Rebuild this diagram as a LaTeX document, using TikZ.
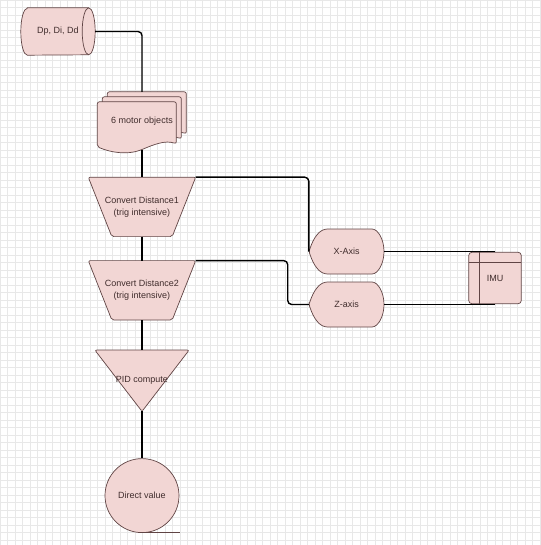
\documentclass[tikz,border=0pt]{standalone}
\usepackage{fontspec}
\setmainfont{Liberation Sans}
\usepackage{tikz}
\usetikzlibrary{positioning, calc, backgrounds}
\definecolor{shapefill}{RGB}{242,214,212}
\definecolor{shapeedge}{RGB}{96,68,68}
\definecolor{labeltext}{RGB}{64,44,44}
\definecolor{gridline}{RGB}{232,232,232}

\begin{document}
\begin{tikzpicture}[
      x=1pt, y=1pt,
      every node/.style={text=labeltext, font=\fontsize{9}{12}\selectfont, align=center, inner sep=0pt},
      shp/.style={draw=shapeedge, fill=shapefill, line width=0.7pt, rounded corners=2pt},
      edge/.style={draw=shapeedge, line width=0.7pt},
      wire/.style={draw=black, line width=1.4pt, rounded corners=4pt}
    ]
    \useasboundingbox (0,0) rectangle (540,-545);
    \node [minimum width=74pt, minimum height=47pt] (data) at (58,-31.5) {Dp, Di, Dd};
    \node [minimum width=89pt, minimum height=58pt] (motors) at (142,-121) {6 motor objects};
    \node [minimum width=107pt, minimum height=59pt, below=27pt of motors] (conv1) {Convert Distance1\\(trig intensive)};
    \node [minimum width=107pt, minimum height=59pt, below=24pt of conv1] (conv2) {Convert Distance2\\(trig intensive)};
    \node [minimum width=94pt, minimum height=61pt, below=30pt of conv2] (pid) {PID compute};
    \node [circle, minimum size=74pt, below=47pt of pid] (direct) {Direct value};
    \node [minimum width=75pt, minimum height=45pt] (xaxis) at (346.5,-251.5) {X-Axis};
    \node [minimum width=75pt, minimum height=45pt] (zaxis) at (346.5,-304.5) {Z-axis};
    \node [minimum width=52pt, minimum height=51pt] (imu) at (495,-278) {IMU};

    \begin{scope}[on background layer]
      % grid paper
      \foreach \i in {0,...,73} {
        \draw [gridline, line width=0.35pt] (\i*7.5,0) -- (\i*7.5,-545);
        \draw [gridline, line width=0.35pt] (0,-\i*7.5) -- (540,-\i*7.5);
      }
      % stored data
      \path [shp, sharp corners] ($(data.north west)+(6.5,0)$) -- ($(data.north east)+(-6.5,0)$)
        arc [start angle=90, end angle=-90, x radius=6.5, y radius=23.5]
        -- ($(data.south west)+(6.5,0)$)
        arc [start angle=270, end angle=90, x radius=6.5, y radius=23.5] -- cycle;
      \draw [edge] ($(data.north east)+(-6.5,0)$) arc [start angle=90, end angle=270, x radius=6.5, y radius=23.5];
      % documents
      \foreach \d in {10,5,0}
        \path [shp, shift={($(motors.north west)+(\d,-10+\d)$)}] (0,0) -- (79,0) -- (79,-42)
          .. controls (68,-38) and (56,-43) .. (44,-48)
          .. controls (30,-53) and (14,-51) .. (0,-45) -- cycle;
      % manual operations
      \foreach \n in {conv1,conv2}
        \path [shp] (\n.north west) -- (\n.north east) -- ($(\n.south east)+(-23.5,0)$)
          -- ($(\n.south west)+(23.5,0)$) -- cycle;
      % displays
      \foreach \n in {xaxis,zaxis}
        \path [shp, shift={(\n.center)}] (-37.5,0) .. controls (-33,-14) and (-27,-22.5) .. (-17,-22.5)
          -- (23.5,-22.5) arc [start angle=-90, end angle=90, x radius=14, y radius=22.5]
          -- (-17,22.5) .. controls (-27,22.5) and (-33,14) .. (-37.5,0) -- cycle;
      % internal storage
      \path [shp, rounded corners=3pt] (imu.north west) rectangle (imu.south east);
      \draw [edge] ($(imu.north west)+(11,0)$) -- ($(imu.south west)+(11,0)$)
        ($(imu.north west)+(0,-10)$) -- ($(imu.north east)+(0,-10)$);
      % merge
      \path [shp] (pid.north west) -- (pid.north east) -- (pid.south) -- cycle;
      % sequential data
      \path [shp] (direct.center) circle [radius=37];
      \draw [edge] (direct.south) -- ++(38,0);
    \end{scope}

    \draw [wire] (data.east) -| (motors.north);
    \draw [wire] (motors.south) -- (conv1.north);
    \draw [wire] (conv1.south) -- (conv2.north);
    \draw [wire] (conv2.south) -- (pid.north);
    \draw [wire] (pid.south) -- (direct.north);
    \draw [wire] (conv1.north east) -| (xaxis.west);
    \draw [wire] (conv2.north east) -- ++(92,0) |- (zaxis.west);
    \draw [wire] (xaxis.east) -- (xaxis.east -| imu.north);
    \draw [wire] (zaxis.east) -- (zaxis.east -| imu.south);
\end{tikzpicture}
\end{document}
